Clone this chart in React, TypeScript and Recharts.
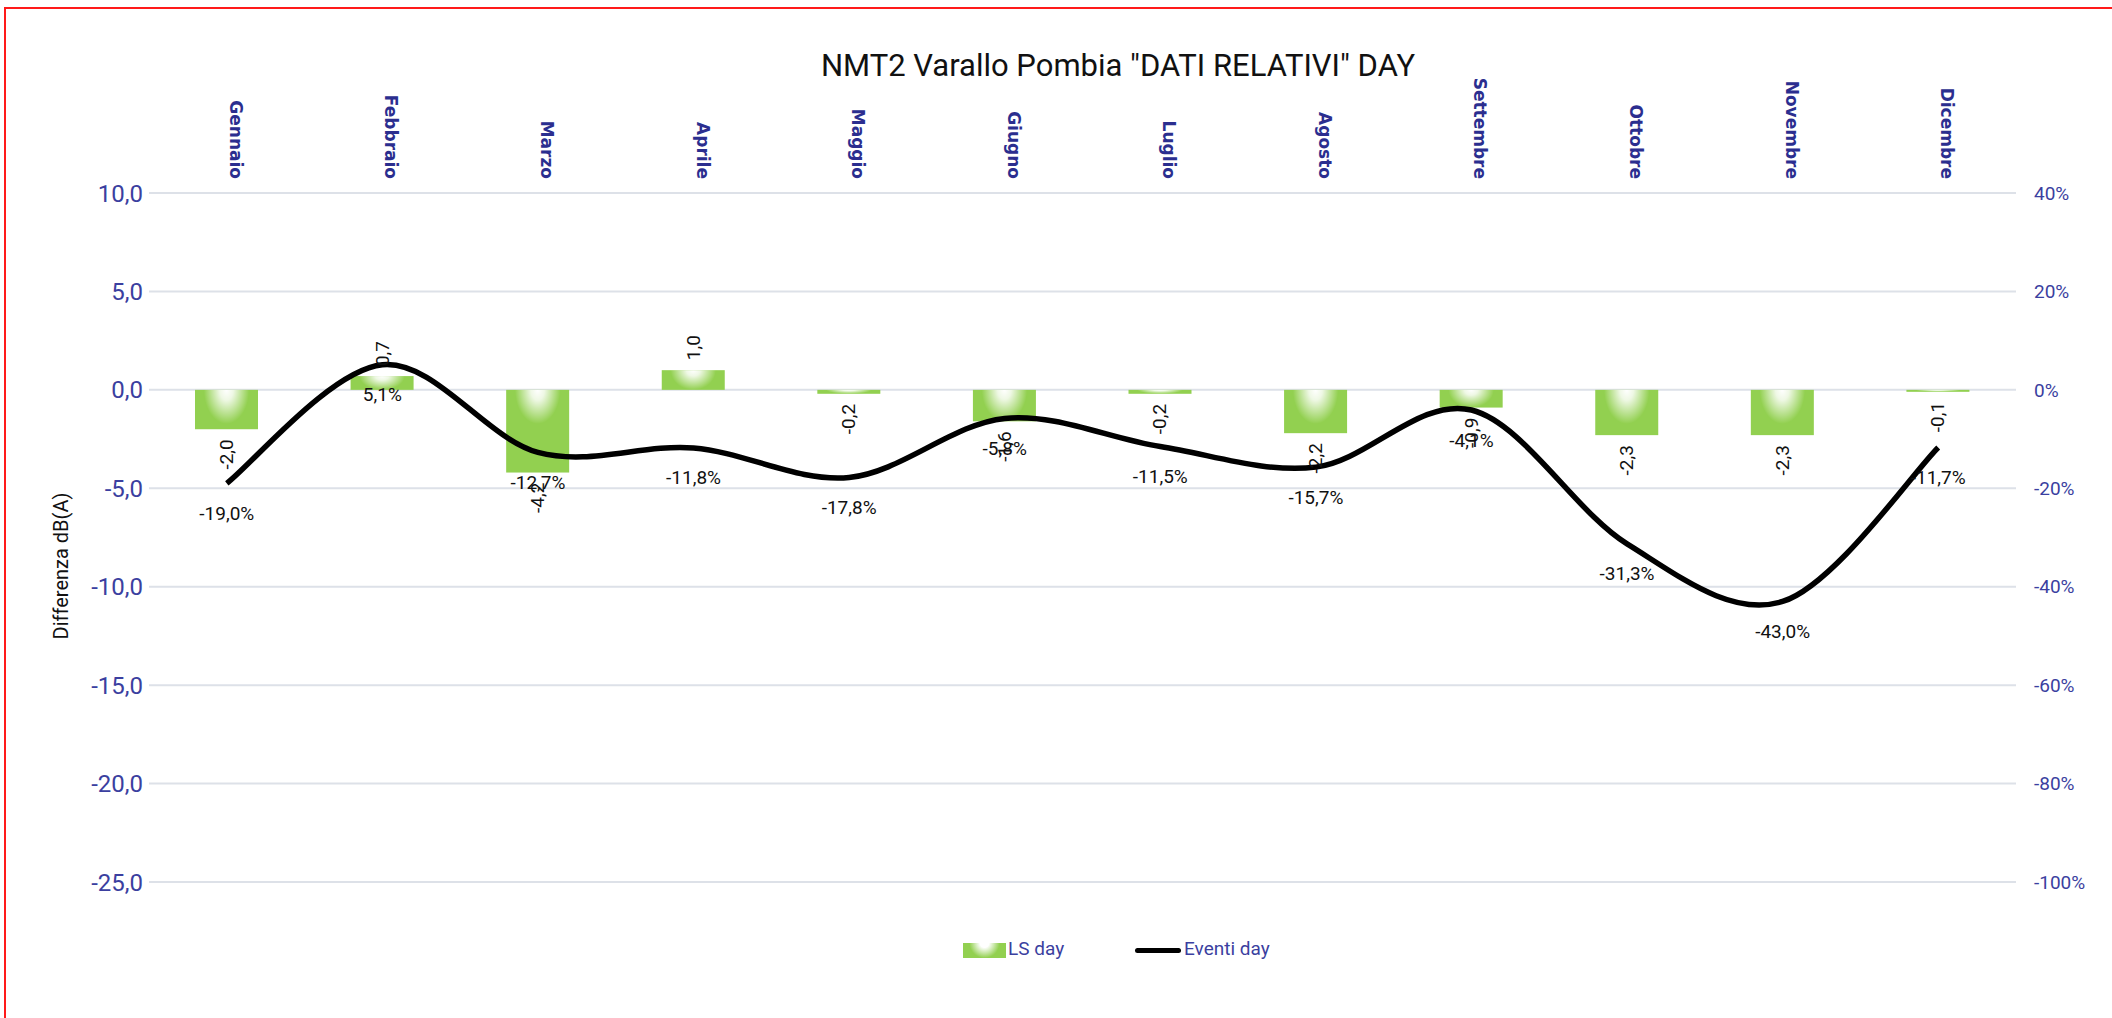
import React from "react";
import {
  ComposedChart,
  Bar,
  Line,
  XAxis,
  YAxis,
  CartesianGrid,
  LabelList,
  Label,
} from "recharts";

const months = [
  "Gennaio", "Febbraio", "Marzo", "Aprile", "Maggio", "Giugno",
  "Luglio", "Agosto", "Settembre", "Ottobre", "Novembre", "Dicembre",
];
const lsDay = [-2.0, 0.7, -4.2, 1.0, -0.2, -1.6, -0.2, -2.2, -0.9, -2.3, -2.3, -0.1];
const eventiDay = [-19.0, 5.1, -12.7, -11.8, -17.8, -5.8, -11.5, -15.7, -4.1, -31.3, -43.0, -11.7];
const leftTicks = [-25, -20, -15, -10, -5, 0, 5, 10];
const rightTicks = [-100, -80, -60, -40, -20, 0, 20, 40];

const data = months.map((m, i) => ({ month: m, ls: lsDay[i], eventi: eventiDay[i] }));

const BLUE = "#3B3FA0";
const GREEN = "#92D050";
const FONT = "Roboto, 'Liberation Sans', sans-serif";

const comma = (v: number, d = 1) => v.toFixed(d).replace(".", ",");

// Excel style smoothing (catmull-rom through the points)
const excelSmooth = (context: any) => {
  let pts: number[][] = [];
  return {
    areaStart() {},
    areaEnd() {},
    lineStart() {
      pts = [];
    },
    point(x: number, y: number) {
      pts.push([+x, +y]);
    },
    lineEnd() {
      if (!pts.length) return;
      context.moveTo(pts[0][0], pts[0][1]);
      for (let i = 0; i < pts.length - 1; i++) {
        const p0 = pts[i - 1] || pts[i];
        const p1 = pts[i];
        const p2 = pts[i + 1];
        const p3 = pts[i + 2] || p2;
        context.bezierCurveTo(
          p1[0] + (p2[0] - p0[0]) / 6,
          p1[1] + (p2[1] - p0[1]) / 6,
          p2[0] - (p3[0] - p1[0]) / 6,
          p2[1] - (p3[1] - p1[1]) / 6,
          p2[0],
          p2[1]
        );
      }
    },
  };
};

const GlowBar = (props: any) => {
  const { x, y, width, height } = props;
  const top = Math.min(y, y + height);
  const h = Math.abs(height);
  if (!h) return null;
  const gw = width * 0.72;
  const gh = Math.min(h, 34);
  return (
    <g>
      <rect x={x} y={top} width={width} height={h} fill={GREEN} />
      <rect x={x + (width - gw) / 2} y={top} width={gw} height={gh} fill="url(#barGlow)" />
    </g>
  );
};

const MonthTick = (props: any) => {
  const { x, y, payload } = props;
  const tx = x + 9;
  return (
    <text
      x={tx}
      y={y}
      transform={`rotate(90 ${tx} ${y})`}
      textAnchor="end"
      dominantBaseline="central"
      fill="#2B2E8F"
      fontFamily="'DejaVu Sans', sans-serif"
      fontWeight="bold"
      fontSize={17}
    >
      {payload.value}
    </text>
  );
};

const BarValueLabel = (props: any) => {
  const { x, y, width, height, value } = props;
  const cx = x + width / 2;
  const top = Math.min(y, y + height);
  const bottom = Math.max(y, y + height);
  const pos = value >= 0;
  const ay = pos ? top - 10 : bottom + 10;
  return (
    <text
      x={cx}
      y={ay}
      transform={`rotate(-90 ${cx} ${ay})`}
      textAnchor={pos ? "start" : "end"}
      dominantBaseline="central"
      fill="#111"
      fontFamily={FONT}
      fontSize={19}
    >
      {comma(value)}
    </text>
  );
};

const LineValueLabel = (props: any) => {
  const { x, y, value } = props;
  return (
    <text
      x={x}
      y={y + 30}
      textAnchor="middle"
      dominantBaseline="central"
      fill="#111"
      fontFamily={FONT}
      fontSize={19}
    >
      {comma(value)}%
    </text>
  );
};

export default function App() {
  return (
    <div style={{ position: "absolute", left: 0, top: 0, width: 2112, height: 1018, background: "#fff", overflow: "hidden" }}>
      <div
        style={{
          position: "absolute",
          left: 4,
          top: 7,
          width: 2200,
          height: 1100,
          borderTop: "2px solid #FF1A1A",
          borderLeft: "2px solid #FF1A1A",
        }}
      />
      <div
        style={{
          position: "absolute",
          left: 0,
          width: 2236,
          top: 47,
          textAlign: "center",
          fontFamily: FONT,
          fontSize: 31,
          color: "#111",
        }}
      >
        NMT2 Varallo Pombia "DATI RELATIVI" DAY
      </div>
      <div style={{ position: "absolute", left: 0, top: 0 }}>
        <ComposedChart
          width={2112}
          height={1018}
          data={data}
          margin={{ top: 40, right: 0, bottom: 136, left: 0 }}
          barSize={63}
        >
          <defs>
            <radialGradient id="barGlow" cx="0.5" cy="0" r="0.5" gradientTransform="scale(1 2)">
              <stop offset="0" stopColor="#fff" stopOpacity={1} />
              <stop offset="0.3" stopColor="#fff" stopOpacity={0.85} />
              <stop offset="1" stopColor="#fff" stopOpacity={0} />
            </radialGradient>
          </defs>
          <CartesianGrid vertical={false} stroke="#DDE1E8" strokeWidth={2} yAxisId="left" />
          <XAxis
            dataKey="month"
            orientation="top"
            height={153}
            interval={0}
            axisLine={false}
            tickLine={false}
            tickSize={0}
            tickMargin={14}
            tick={<MonthTick />}
          />
          <YAxis
            yAxisId="left"
            domain={[-25, 10]}
            ticks={leftTicks}
            width={149}
            axisLine={false}
            tickLine={false}
            tickSize={0}
            tickMargin={6}
            tickFormatter={(v: number) => comma(v)}
            tick={{ fill: BLUE, fontSize: 24, fontFamily: FONT }}
          >
            <Label
              content={() => (
                <text
                  x={61}
                  y={566}
                  transform="rotate(-90 61 566)"
                  textAnchor="middle"
                  dominantBaseline="central"
                  fill="#111"
                  fontFamily={FONT}
                  fontSize={20}
                >
                  Differenza dB(A)
                </text>
              )}
            />
          </YAxis>
          <YAxis
            yAxisId="right"
            orientation="right"
            domain={[-100, 40]}
            ticks={rightTicks}
            width={96}
            axisLine={false}
            tickLine={false}
            tickSize={0}
            tickMargin={18}
            tickFormatter={(v: number) => `${v}%`}
            tick={{ fill: BLUE, fontSize: 19, fontFamily: FONT }}
          />
          <Bar yAxisId="left" dataKey="ls" name="LS day" shape={<GlowBar />} isAnimationActive={false}>
            <LabelList dataKey="ls" content={<BarValueLabel />} />
          </Bar>
          <Line
            yAxisId="right"
            dataKey="eventi"
            name="Eventi day"
            type={excelSmooth as any}
            stroke="#000"
            strokeWidth={5.5}
            dot={false}
            activeDot={false}
            isAnimationActive={false}
          >
            <LabelList dataKey="eventi" content={<LineValueLabel />} />
          </Line>
        </ComposedChart>
      </div>
      <div style={{ position: "absolute", left: 963, top: 943, width: 43, height: 15, background: `radial-gradient(ellipse 35% 100% at 50% 0%, #fff 0%, rgba(255,255,255,0.8) 30%, ${GREEN} 100%)` }} />
      <div style={{ position: "absolute", left: 1008, top: 937, fontFamily: FONT, fontSize: 19, color: BLUE }}>LS day</div>
      <div style={{ position: "absolute", left: 1135, top: 948, width: 46, height: 5, borderRadius: 3, background: "#000" }} />
      <div style={{ position: "absolute", left: 1184, top: 937, fontFamily: FONT, fontSize: 19, color: BLUE }}>Eventi day</div>
    </div>
  );
}
